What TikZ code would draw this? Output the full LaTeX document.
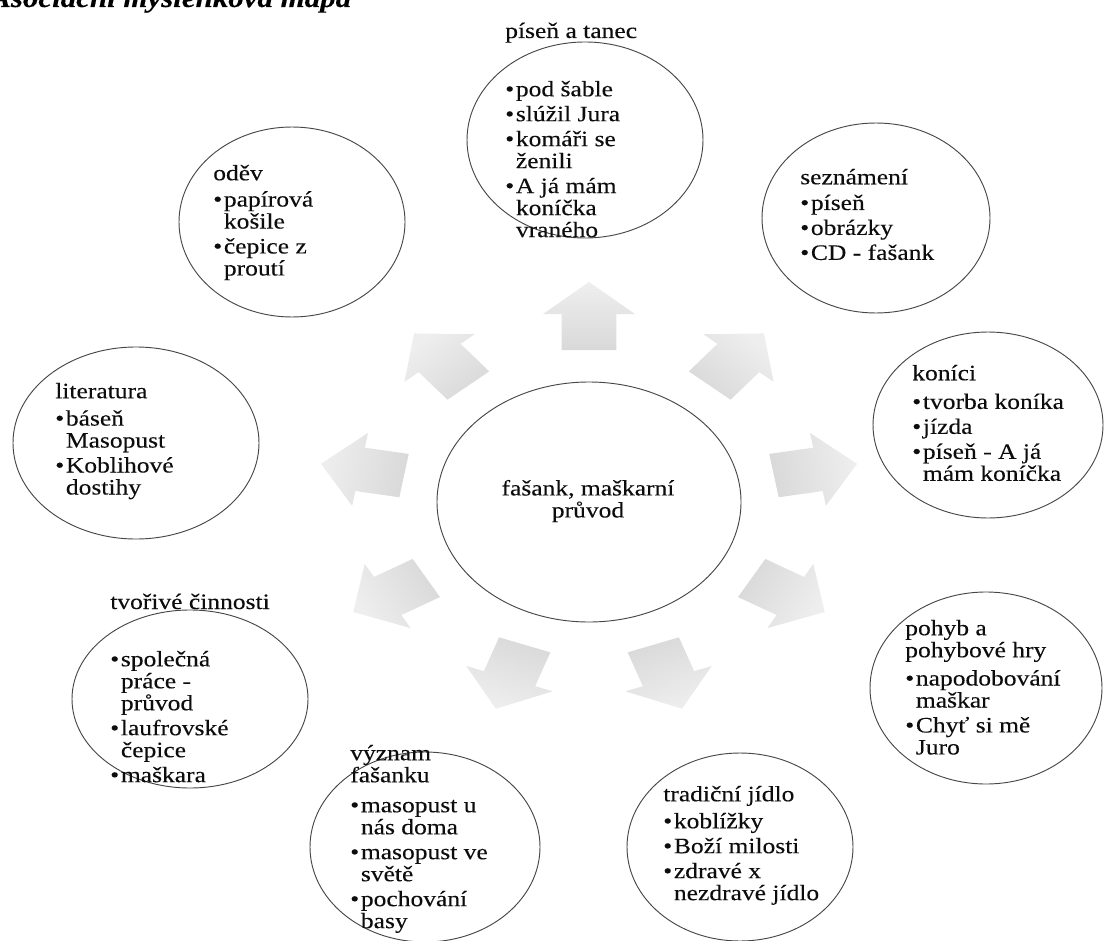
\documentclass[tikz,border=0pt]{standalone}
\usepackage{fontspec}
\setmainfont{Liberation Serif}[FakeStretch=1.16, FakeBold=0.15]
\usetikzlibrary{shapes.geometric}
\newcommand\bodyfont{\fontsize{16.5pt}{16.5pt}\selectfont}
\newcommand\bl{\makebox[8pt][l]{\textbullet}}
\newcommand\ind{\hspace*{8pt}}
\newcommand\radarrow[4]{% x, y, angle, shading angle
  \begin{scope}[shift={(#1,#2)}, xscale=1.24, rotate=#3]
    \shade[arrowfill, shading angle=#4]
      (-34,-22) -- (2,-22) -- (2,-37) -- (34,0) -- (2,37) -- (2,22) -- (-34,22) -- cycle;
  \end{scope}}
\begin{document}
\begin{tikzpicture}[x=0.75pt, y=-0.75pt,
  ell/.style={ellipse, draw=black!72, line width=0.7pt, inner sep=0pt},
  es/.style 2 args={minimum width=#1*1.5pt, minimum height=#2*1.5pt},
  txt1/.style={anchor=base west, inner sep=0pt, font=\bodyfont, text=black!95},
  txt/.style={anchor=north west, align=left, inner sep=0pt, font=\bodyfont, text=black!95,
              execute at begin node={\rule{0pt}{13pt}}},
  arrowfill/.style={top color=gray!13, bottom color=gray!30}]
\useasboundingbox (0,0) rectangle (1106,941);
\fill[white] (0,0) rectangle (1106,941);

% heading (cut off by the page edge)
\node[anchor=base west, inner sep=0pt, font=\fontsize{20pt}{20pt}\selectfont\bfseries\itshape] (heading) at (-10,7) {Asociační myšlenková mapa};

% radial arrows
\radarrow{589}{316}{90}{0}
\radarrow{736.8}{359.5}{50}{-40}
\radarrow{815.5}{469.7}{10}{-80}
\radarrow{788.2}{595}{-30}{-120}
\radarrow{667.7}{676.8}{-70}{-160}
\radarrow{510.3}{676.8}{-110}{160}
\radarrow{389.8}{595}{-150}{120}
\radarrow{362.5}{469.7}{170}{80}
\radarrow{441.2}{359.5}{130}{40}

% ellipses
\node[ell, es={152}{120}] (center) at (589,502) {};
\node[ell, es={118}{98}] (pisen) at (585,140) {};
\node[ell, es={113}{95}] (odev) at (292,222) {};
\node[ell, es={114}{95}] (seznameni) at (876,218) {};
\node[ell, es={115}{93}] (konici) at (988,425) {};
\node[ell, es={123}{96}] (literatura) at (136,443) {};
\node[ell, es={118}{89}] (tvorive) at (190,699) {};
\node[ell, es={116}{96}] (pohyb) at (986,688) {};
\node[ell, es={115}{95}] (vyznam) at (425,847) {};
\node[ell, es={113}{94}] (tradicni) at (740,847) {};

% texts (north west anchor = first baseline - 17.3)
\node[txt, align=center, anchor=north] (tcenter) at (588,479.7) {fašank, maškarní\\průvod};

\node[txt1] (tpisenhead) at (505,38) {píseň a tanec};
\node[txt] (tpisen) at (505,80.7) {\bl pod šable\\[2.2pt]\bl slúžil Jura\\[2.2pt]\bl komáři se\\\ind ženili\\[2.2pt]\bl A já mám\\\ind koníčka\\\ind vraného};

\node[txt] (todev) at (213,164.7) {oděv\\[3.2pt]\bl papírová\\\ind košile\\[2.2pt]\bl čepice z\\\ind proutí};

\node[txt] (tseznameni) at (800,168.7) {seznámení\\[2.8pt]\bl píseň\\[2.2pt]\bl obrázky\\[2.2pt]\bl CD - fašank};

\node[txt] (tkonici) at (912,364.7) {koníci\\[5pt]\bl tvorba koníka\\[2.2pt]\bl jízda\\[2.2pt]\bl píseň - A já\\\ind mám koníčka};

\node[txt] (tliteratura) at (55,382.7) {literatura\\[4pt]\bl báseň\\\ind Masopust\\[2.2pt]\bl Koblihové\\\ind dostihy};

\node[txt1] (ttvorivehead) at (110,609) {tvořivé činnosti};
\node[txt] (ttvorive) at (110,650.7) {\bl společná\\\ind práce -\\\ind průvod\\[2.2pt]\bl laufrovské\\\ind čepice\\[2.2pt]\bl maškara};

\node[txt] (tpohyb) at (905,619.7) {pohyb a\\pohybové hry\\[4.7pt]\bl napodobování\\\ind maškar\\[2.2pt]\bl Chyť si mě\\\ind Juro};

\node[txt] (tvyznam) at (350,744.7) {význam\\fašanku\\[6pt]\bl masopust u\\\ind nás doma\\[2.2pt]\bl masopust ve\\\ind světě\\[2.2pt]\bl pochování\\\ind basy};

\node[txt] (ttradicni) at (663,785.7) {tradiční jídlo\\[3.75pt]\bl koblížky\\[2.2pt]\bl Boží milosti\\[2.2pt]\bl zdravé x\\\ind nezdravé jídlo};
\end{tikzpicture}
\end{document}
